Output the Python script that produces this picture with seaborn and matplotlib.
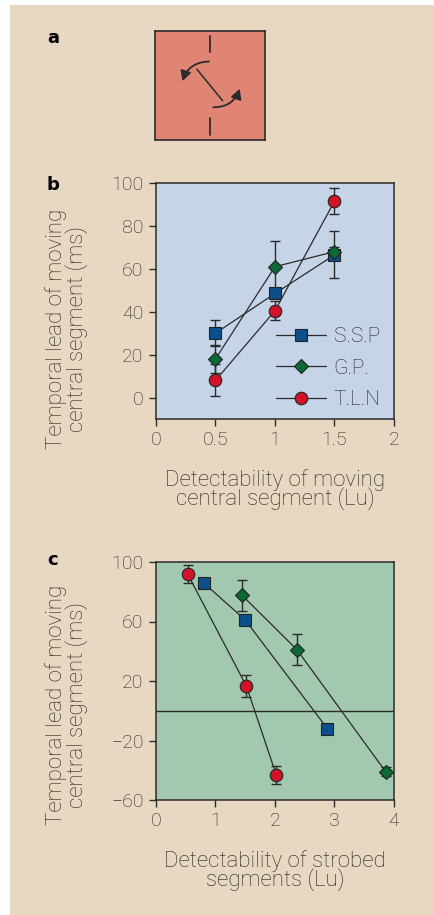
import matplotlib
matplotlib.use("Agg")
import matplotlib.pyplot as plt
import numpy as np
import pandas as pd
import seaborn as sns
from matplotlib.patches import Rectangle, FancyArrowPatch

# Panel b: detectability of moving central segment
subjects = ["S.S.P", "G.P.", "T.L.N"]
b_x = [0.5, 1.0, 1.5]
b_ssp = [30, 48.5, 66.5]
b_ssp_err = [6, 2, 11]
b_gp = [18, 61, 68]
b_gp_err = [6.5, 12, 2]
b_tln = [8, 40.5, 91.5]
b_tln_err = [7.5, 4.5, 6]

# Panel c: detectability of strobed segments
c_ssp_x = [0.8, 1.5, 2.88]
c_ssp = [86, 61, -12]
c_ssp_err = [0, 0, 0]
c_gp_x = [1.45, 2.37, 3.86]
c_gp = [77.5, 41, -41]
c_gp_err = [10.5, 10.5, 3]
c_tln_x = [0.53, 1.52, 2.02]
c_tln = [92, 16.5, -43]
c_tln_err = [6, 7.5, 6]

TAN = "#e8d8c2"
LINE = "#2b2b2b"
TEXT = "#222222"
LABEL_FS = 16
TICK_FS = 14
styles = {
    "S.S.P": dict(marker="s", color="#0d4f8b", ms=8.5),
    "G.P.": dict(marker="D", color="#0b6a35", ms=7),
    "T.L.N": dict(marker="o", color="#d11229", ms=9),
}

sns.set_style("ticks")
plt.rcParams["font.family"] = ["Roboto", "DejaVu Sans"]
plt.rcParams["font.weight"] = "light"
plt.rcParams["axes.labelweight"] = "light"
plt.rcParams["text.color"] = TEXT
plt.rcParams["axes.labelcolor"] = TEXT
plt.rcParams["xtick.color"] = LINE
plt.rcParams["ytick.color"] = LINE
plt.rcParams["xtick.labelcolor"] = TEXT
plt.rcParams["ytick.labelcolor"] = TEXT

fig = plt.figure(figsize=(4.35, 9.15), dpi=100, facecolor="white")
fig.patches.append(Rectangle((10 / 435, 0), 1, 1 - 5 / 915, transform=fig.transFigure,
                             facecolor=TAN, edgecolor="none", zorder=-10))

# ---- panel a: schematic
ax_a = fig.add_axes([155 / 435, 1 - 140 / 915, 110 / 435, 109 / 915])
ax_a.set_facecolor("#e08574")
ax_a.set_xlim(0, 1)
ax_a.set_ylim(0, 1)
ax_a.set_xticks([])
ax_a.set_yticks([])
for s in ax_a.spines.values():
    s.set_color(LINE)
    s.set_linewidth(1.2)
ax_a.plot([0.5, 0.5], [0.81, 0.95], color=LINE, lw=1.3)
ax_a.plot([0.5, 0.5], [0.05, 0.20], color=LINE, lw=1.3)
ax_a.plot([0.38, 0.615], [0.65, 0.36], color=LINE, lw=1.1)
for start, end in [((0.49, 0.72), (0.25, 0.54)), ((0.53, 0.30), (0.77, 0.47))]:
    ax_a.add_patch(FancyArrowPatch(start, end, connectionstyle="arc3,rad=0.35",
                                   arrowstyle="-|>,head_length=6,head_width=3.2",
                                   shrinkA=0, shrinkB=0, color=LINE, lw=1.3))
fig.text(47 / 435, 1 - 38 / 915, "a", fontsize=13, fontweight="bold", color="black",
         family="DejaVu Sans", va="center")


def style_axes(ax, bg):
    ax.set_facecolor(bg)
    for s in ax.spines.values():
        s.set_visible(True)
        s.set_color(LINE)
        s.set_linewidth(1.1)
    ax.tick_params(direction="out", length=5, width=1, labelsize=TICK_FS, pad=4,
                   top=False, right=False)


def draw_series(ax, name, x, y, err, legend):
    st = styles[name]
    df = pd.DataFrame({"x": x, "y": y})
    ax.errorbar(x, y, yerr=err, fmt="none", ecolor=LINE, elinewidth=1, capsize=3.5,
                capthick=1, zorder=2)
    sns.lineplot(data=df, x="x", y="y", ax=ax, color=LINE, lw=0.9, marker=st["marker"],
                 markersize=st["ms"], markerfacecolor=st["color"], markeredgecolor="#222222",
                 markeredgewidth=0.8, label=name if legend else None, zorder=3,
                 estimator=None, sort=True)


def set_labels(ax, xlabel, ylabel, ly):
    ax.set_xlabel(xlabel, fontsize=LABEL_FS, labelpad=14, linespacing=0.8)
    ax.set_ylabel(ylabel, fontsize=LABEL_FS, linespacing=0.9)
    ax.yaxis.set_label_coords(-0.285, ly)


# ---- panel b
ax_b = fig.add_axes([156 / 435, 1 - 419 / 915, 238 / 435, 236 / 915])
style_axes(ax_b, "#c6d4e8")
draw_series(ax_b, "S.S.P", b_x, b_ssp, b_ssp_err, True)
draw_series(ax_b, "G.P.", b_x, b_gp, b_gp_err, True)
draw_series(ax_b, "T.L.N", b_x, b_tln, b_tln_err, True)
ax_b.set_xlim(0, 2)
ax_b.set_ylim(-10, 100)
ax_b.set_xticks([0, 0.5, 1, 1.5, 2])
ax_b.set_xticklabels(["0", "0.5", "1", "1.5", "2"])
ax_b.set_yticks([0, 20, 40, 60, 80, 100])
set_labels(ax_b, "Detectability of moving\ncentral segment (Lu)",
           "Temporal lead of moving\ncentral segment (ms)", 0.38)
leg = ax_b.legend(loc="lower right", frameon=False, fontsize=15, handlelength=2.4,
                  labelspacing=0.6, handletextpad=0.35, borderaxespad=0.3,
                  bbox_to_anchor=(1.005, -0.02))
fig.text(47 / 435, 1 - 185 / 915, "b", fontsize=13, fontweight="bold", color="black",
         family="DejaVu Sans", va="center")

# ---- panel c
ax_c = fig.add_axes([156 / 435, 1 - 800 / 915, 238 / 435, 238 / 915])
style_axes(ax_c, "#a2c8b0")
ax_c.axhline(0, color=LINE, lw=1)
draw_series(ax_c, "S.S.P", c_ssp_x, c_ssp, c_ssp_err, False)
draw_series(ax_c, "G.P.", c_gp_x, c_gp, c_gp_err, False)
draw_series(ax_c, "T.L.N", c_tln_x, c_tln, c_tln_err, False)
ax_c.set_xlim(0, 4)
ax_c.set_ylim(-60, 100)
ax_c.set_xticks([0, 1, 2, 3, 4])
ax_c.set_yticks([-60, -20, 20, 60, 100])
ax_c.set_yticklabels(["\u221260", "\u221220", "20", "60", "100"])
set_labels(ax_c, "Detectability of strobed\nsegments (Lu)",
           "Temporal lead of moving\ncentral segment (ms)", 0.40)
fig.text(47 / 435, 1 - 560 / 915, "c", fontsize=13, fontweight="bold", color="black",
         family="DejaVu Sans", va="center")

fig.savefig("out.png", dpi=100, facecolor="white")
